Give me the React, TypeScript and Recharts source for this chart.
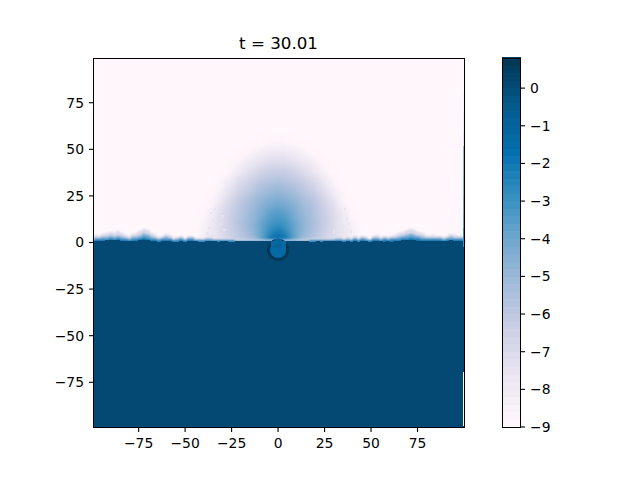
import React from "react";
import {
  Bar,
  BarChart,
  Cell,
  Scatter,
  ScatterChart,
  XAxis,
  YAxis,
} from "recharts";

const xTicks = [-75, -50, -25, 0, 25, 50, 75];
const yTicks = [-75, -50, -25, 0, 25, 50, 75];
const colorbarTicks = [-9, -8, -7, -6, -5, -4, -3, -2, -1, 0];

const xDomain = [-99, 100];
const yDomain = [-99, 99];

const titleText = "t = 30.01";
const airValue = -9;
const waterValue = 0;

const colormapStops = [
  "#fff7fb", "#ece7f2", "#d0d1e6", "#a6bddb", "#74a9cf",
  "#3690c0", "#0570b0", "#045a8d", "#023858",
];

const colorLevels = [
  -8.9, -8.7, -8.5, -8.3, -8.1, -7.9, -7.7, -7.5, -7.3, -7.1,
  -6.9, -6.7, -6.5, -6.3, -6.1, -5.9, -5.7, -5.5, -5.3, -5.1,
  -4.9, -4.7, -4.5, -4.3, -4.1, -3.9, -3.7, -3.5, -3.3, -3.1,
  -2.9, -2.7, -2.5, -2.3, -2.1, -1.9, -1.7, -1.5, -1.3, -1.1,
  -0.9, -0.7, -0.5, -0.3, -0.1, 0.1, 0.3, 0.5, 0.7,
];

// log concentration in the plume, one row per height, one value per x
const plumeXs = [-40, -36, -32, -28, -24, -20, -16, -12, -8, -4, 0, 4, 8, 12, 16, 20, 24, 28, 32, 36, 40];
const plumeYs = [2, 6, 10, 14, 18, 22, 26, 30, 34, 38, 42, 46, 50, 54];
const plumeRows = [
  [-8.3, -7.9, -7.4, -6.9, -6.4, -6, -5.6, -5, -3.5, -1.8, -1.4, -1.8, -3.5, -5, -5.6, -6, -6.4, -6.9, -7.4, -7.9, -8.3],
  [-8.3, -7.8, -7.3, -6.8, -6.3, -5.8, -5.2, -4.6, -3.7, -2.7, -2.2, -2.7, -3.7, -4.6, -5.2, -5.8, -6.3, -6.8, -7.3, -7.8, -8.3],
  [-8.5, -7.9, -7.3, -6.7, -6.2, -5.6, -5.1, -4.5, -3.8, -3.2, -2.9, -3.2, -3.8, -4.5, -5.1, -5.6, -6.2, -6.7, -7.3, -7.9, -8.5],
  [-8.7, -8.1, -7.4, -6.7, -6.1, -5.7, -5.2, -4.7, -4.1, -3.6, -3.3, -3.6, -4.1, -4.7, -5.2, -5.7, -6.1, -6.7, -7.4, -8.1, -8.7],
  [-9, -8.4, -7.6, -6.9, -6.3, -5.8, -5.3, -4.9, -4.4, -4, -3.8, -4, -4.4, -4.9, -5.3, -5.8, -6.3, -6.9, -7.6, -8.4, -9],
  [-9, -8.7, -7.9, -7.1, -6.5, -6, -5.5, -5.1, -4.7, -4.4, -4.3, -4.4, -4.7, -5.1, -5.5, -6, -6.5, -7.1, -7.9, -8.7, -9],
  [-9, -9, -8.3, -7.5, -6.9, -6.3, -5.9, -5.5, -5.1, -4.9, -4.8, -4.9, -5.1, -5.5, -5.9, -6.3, -6.9, -7.5, -8.3, -9, -9],
  [-9, -9, -8.7, -7.9, -7.3, -6.7, -6.3, -5.9, -5.6, -5.3, -5.2, -5.3, -5.6, -5.9, -6.3, -6.7, -7.3, -7.9, -8.7, -9, -9],
  [-9, -9, -9, -8.4, -7.8, -7.2, -6.8, -6.4, -6.1, -5.9, -5.8, -5.9, -6.1, -6.4, -6.8, -7.2, -7.8, -8.4, -9, -9, -9],
  [-9, -9, -9, -8.9, -8.3, -7.7, -7.3, -6.9, -6.6, -6.4, -6.3, -6.4, -6.6, -6.9, -7.3, -7.7, -8.3, -8.9, -9, -9, -9],
  [-9, -9, -9, -9, -8.7, -8.2, -7.8, -7.5, -7.2, -7, -6.9, -7, -7.2, -7.5, -7.8, -8.2, -8.7, -9, -9, -9, -9],
  [-9, -9, -9, -9, -9, -8.7, -8.3, -8, -7.8, -7.6, -7.5, -7.6, -7.8, -8, -8.3, -8.7, -9, -9, -9, -9, -9],
  [-9, -9, -9, -9, -9, -9, -8.8, -8.5, -8.3, -8.2, -8.1, -8.2, -8.3, -8.5, -8.8, -9, -9, -9, -9, -9, -9],
  [-9, -9, -9, -9, -9, -9, -9, -9, -8.9, -8.7, -8.6, -8.7, -8.9, -9, -9, -9, -9, -9, -9, -9, -9],
];

// faint specks at the foot of the plume
const speckXs = [-37, -35, -33, -36, -31, -29, -34, -30, -38, -32, 32, 34, 37, 31, 35, 39, 33, 36, 30, 38];
const speckYs = [8, 12, 6, 16, 10, 7, 18, 14, 5, 19, 11, 7, 13, 17, 9, 6, 15, 18, 6, 10];
const speckValue = -7.6;

// heights of the pale fringe and of the solid water, per 2-unit column
const fringeTops = [
  4, 3.5, 4.5, 5, 5.5, 5, 6, 5, 4, 3, 4.5, 5, 6, 7, 6.5, 5, 4, 3, 3.5, 4.5,
  4, 2.5, 3, 3.5, 2.5, 3.5, 3.5, 2.5, 2.5, 2, 3, 3, 2, 2.5, 2, 2, 1.8, 1.8, 1.5, 1.5,
  1.5, 1.5, 1.5, 1.5, 1.5, 1.5, 1.5, 1.5, 1.5, 1.5, 1.5, 1.5, 1.5, 1.5, 1.5, 1.5, 1.5, 1.5, 1.8, 1.8,
  2, 2, 2.5, 2, 2.5, 3, 3, 2, 3, 2, 3.5, 2.5, 3.5, 3, 2, 3.5, 4, 3, 3.5, 3,
  3.5, 4, 5, 5.5, 6.5, 7, 6.5, 5.5, 5, 4, 3.5, 4, 3.5, 3.5, 3, 3.5, 4.5, 4, 3.5, 3.5,
];
const solidTops = [
  1, 0.8, 1, 1.2, 1.2, 1.5, 1.2, 1, 0.8, 1, 0.6, 1, 1.2, 1.5, 1.2, 0.8, 0.6, 0.4, 0.6, 1,
  0.6, 0.2, 0.4, 0.8, 0.4, 0.8, 1, 0.6, 0.4, 0.2, 0.8, 0.6, 0.6, 0.4, 0.6, 0.6, 0.5, 0.5, 0.6, 0.6,
  0.6, 0.6, 0.6, 0.6, 0.6, 0.6, 0.6, 0.6, 0.6, 0.6, 0.6, 0.6, 0.6, 0.6, 0.6, 0.6, 0.6, 0.6, 0.5, 0.5,
  0.6, 0.4, 0.6, 0.8, 0.6, 0.8, 1, 0.4, 0.6, 0.2, 0.8, 0.4, 1, 0.6, 0.2, 0.8, 1, 0.6, 0.4, 0.8,
  0.2, 0.6, 1, 1.2, 1.5, 1.2, 1.2, 0.8, 0.6, 1, 0.6, 0.8, 0.8, 1, 0.6, 1, 1.2, 0.8, 1, 0.8,
];

const neckXs = [-3, -1, 1, 3];
const neckTops = [0.6, 1.8, 1.8, 0.6];
const neckValues = [-1.4, -1.2, -1.2, -1.4];

const sphereCentre = { x: 0, y: -4 };
const sphereValue = -1.3;
const sphereRingValue = 0.7;

// thin stray strip along the right wall, from the image
const edgeYs = [75, 65, 55, 47, 40, 30, 20, 10, 3];
const edgeValues = [-8.5, -8, -7.5, -5, -4.8, -4.5, -4.2, -3.8, -3];
const edgeGapYs = [-72, -77, -82, -87, -92, -96];

const plotLeft = 94;
const plotTop = 58;
const plotWidth = 370;
const plotHeight = 369;
const pxX = plotWidth / (xDomain[1] - xDomain[0]);
const pxY = plotHeight / (yDomain[1] - yDomain[0]);
const columnWidth = (xDomain[1] - xDomain[0]) / fringeTops.length;

function colorFor(value: number) {
  const bin = Math.round((value + 8.9) / 0.2) * 0.2 - 8.9;
  const t = (Math.max(-8.9, Math.min(0.7, bin)) + 8.9) / 9.6;
  const pos = t * (colormapStops.length - 1);
  const i = Math.min(Math.floor(pos), colormapStops.length - 2);
  const f = pos - i;
  const hex = (c: string, k: number) => parseInt(c.slice(1 + k * 2, 3 + k * 2), 16);
  const ch = [0, 1, 2].map((k) =>
    Math.round(hex(colormapStops[i], k) * (1 - f) + hex(colormapStops[i + 1], k) * f),
  );
  return `rgb(${ch[0]},${ch[1]},${ch[2]})`;
}

const columnX = (i: number) => xDomain[0] + (i + 0.5) * columnWidth;
const span = (x: number, y0: number, y1: number, w: number, value: number | null) => ({
  x,
  y: (y0 + y1) / 2,
  w,
  h: y1 - y0,
  fill: value === null ? "#ffffff" : colorFor(value),
});

const airCells = solidTops.map((_, i) => span(columnX(i), yDomain[0], yDomain[1], columnWidth, airValue));
const plumeCells = plumeRows.flatMap((row, r) =>
  row
    .map((v, c) => ({ v, c }))
    .filter(({ v }) => v > -9)
    .map(({ v, c }) => span(plumeXs[c], plumeYs[r] - 2, plumeYs[r] + 2, 4, v)),
);
const speckCells = speckXs.map((x, i) => span(x, speckYs[i] - 0.5, speckYs[i] + 0.5, 1, speckValue));
const fringePaleCells = fringeTops.map((top, i) => span(columnX(i), 0, top, columnWidth, -7));
const fringeMidCells = fringeTops.map((top, i) => span(columnX(i), 0, top * 0.62, columnWidth, -4));
const fringeDeepCells = fringeTops.map((top, i) => span(columnX(i), 0, top * 0.32, columnWidth, -1.5));
const waterCells = solidTops.map((top, i) => span(columnX(i), yDomain[0], top, columnWidth, waterValue));
const neckCells = neckXs.map((x, i) => span(x, -3, neckTops[i], 2, neckValues[i]));
const edgeCells = [
  ...edgeYs.map((y, i) => span(99.5, y - 5, y + 5, 0.5, edgeValues[i])),
  ...edgeGapYs.map((y) => span(99.5, y - 2.5, y + 2.5, 0.5, null)),
];
const colorbarData = colorLevels.map((level) => ({ level, full: 1 }));

function CellShape(props: any) {
  const { cx, cy, payload } = props;
  const w = payload.w * pxX;
  const h = payload.h * pxY;
  return (
    <rect
      x={cx - w / 2}
      y={cy - h / 2}
      width={w + 0.4}
      height={h + 0.4}
      fill={payload.fill}
      shapeRendering="crispEdges"
    />
  );
}

function SphereShape(props: any) {
  const { cx, cy } = props;
  return (
    <circle
      cx={cx}
      cy={cy}
      r={9.6}
      fill={colorFor(sphereValue)}
      stroke={colorFor(sphereRingValue)}
      strokeWidth={3}
    />
  );
}

const tickFont = { fontFamily: "DejaVu Sans", fontSize: 13.9, fill: "#000000" };
const axisLine = { stroke: "#000000", strokeWidth: 1.1 };
const tickLine = { stroke: "#000000", strokeWidth: 1.1 };
const formatTick = (v: number) => String(v).replace("-", "\u2212");
const frameStyle = {
  position: "absolute" as const,
  boxSizing: "border-box" as const,
  border: "1px solid #000000",
  pointerEvents: "none" as const,
};

export default function App() {
  return (
    <div style={{ position: "absolute", left: 0, top: 0, width: 640, height: 480, background: "#fff" }}>
      <style>{`.plume { filter: blur(3px); } .fringe { filter: blur(1.1px); } .speck { filter: blur(0.6px); }`}</style>
      <div style={{ position: "absolute", left: 0, top: 0 }}>
        <ScatterChart
          width={640}
          height={480}
          margin={{ top: plotTop, right: 640 - plotLeft - plotWidth, bottom: 480 - plotTop - plotHeight - 30, left: plotLeft - 40 }}
        >
          <XAxis
            type="number"
            dataKey="x"
            domain={xDomain}
            ticks={xTicks}
            tick={tickFont}
            tickSize={5}
            tickMargin={6}
            height={30}
            axisLine={axisLine}
            tickLine={tickLine}
            tickFormatter={formatTick}
            interval={0}
          />
          <YAxis
            type="number"
            dataKey="y"
            domain={yDomain}
            ticks={yTicks}
            tick={tickFont}
            tickSize={5}
            tickMargin={5}
            width={40}
            axisLine={axisLine}
            tickLine={tickLine}
            tickFormatter={formatTick}
            interval={0}
          />
          <Scatter data={airCells} shape={CellShape} isAnimationActive={false} />
          <Scatter data={plumeCells} shape={CellShape} className="plume" isAnimationActive={false} />
          <Scatter data={speckCells} shape={CellShape} className="speck" isAnimationActive={false} />
          <Scatter data={fringePaleCells} shape={CellShape} className="fringe" isAnimationActive={false} />
          <Scatter data={fringeMidCells} shape={CellShape} className="fringe" isAnimationActive={false} />
          <Scatter data={fringeDeepCells} shape={CellShape} className="fringe" isAnimationActive={false} />
          <Scatter data={waterCells} shape={CellShape} isAnimationActive={false} />
          <Scatter data={[sphereCentre]} shape={SphereShape} isAnimationActive={false} />
          <Scatter data={neckCells} shape={CellShape} isAnimationActive={false} />
          <Scatter data={edgeCells} shape={CellShape} isAnimationActive={false} />
          <text
            x={278.5}
            y={49}
            textAnchor="middle"
            fontFamily="DejaVu Sans"
            fontSize={16.7}
            fill="#000000"
          >
            {titleText}
          </text>
        </ScatterChart>
      </div>
      <div style={{ ...frameStyle, left: 93, top: 58, width: 372, height: 370 }} />
      <div style={{ position: "absolute", left: 502, top: 48 }}>
        <BarChart
          width={70}
          height={389}
          layout="vertical"
          data={colorbarData}
          barCategoryGap={0}
          margin={{ top: 10, right: 0, bottom: 10, left: 0 }}
        >
          <XAxis type="number" domain={[0, 1]} hide />
          <YAxis
            type="number"
            dataKey="level"
            domain={[-9, 0.8]}
            ticks={colorbarTicks}
            orientation="right"
            reversed
            width={52}
            tick={tickFont}
            tickSize={5}
            tickMargin={5}
            axisLine={false}
            tickLine={tickLine}
            tickFormatter={formatTick}
            interval={0}
          />
          <Bar dataKey="full" barSize={9} isAnimationActive={false}>
            {colorbarData.map((d) => (
              <Cell
                key={d.level}
                fill={colorFor(d.level)}
                stroke={colorFor(d.level)}
                strokeWidth={2}
                shapeRendering="crispEdges"
              />
            ))}
          </Bar>
        </BarChart>
      </div>
      <div style={{ ...frameStyle, left: 502, top: 58, width: 19, height: 370 }} />
    </div>
  );
}
